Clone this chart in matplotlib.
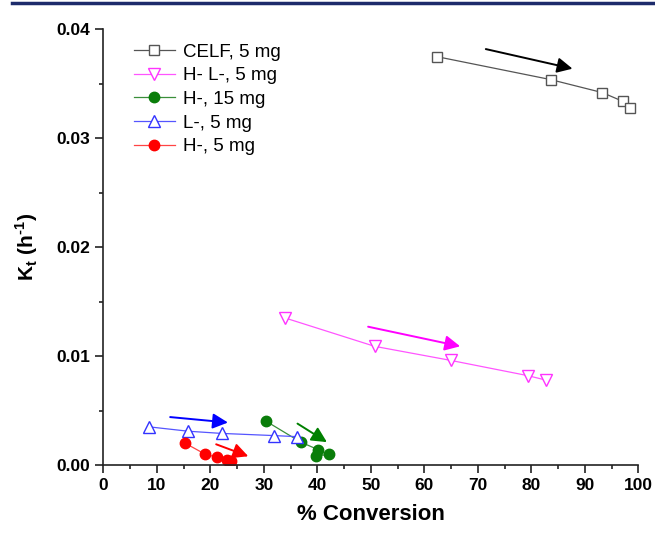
"""Kt vs % conversion for the five membrane samples."""

import matplotlib

matplotlib.use("Agg")
import matplotlib.pyplot as plt
from matplotlib.lines import Line2D
from matplotlib.ticker import FormatStrFormatter, MultipleLocator

plt.rcParams["font.family"] = ["Liberation Sans", "DejaVu Sans"]
plt.rcParams["mathtext.fontset"] = "custom"
plt.rcParams["mathtext.rm"] = "Liberation Sans:bold"
plt.rcParams["mathtext.bf"] = "Liberation Sans:bold"

# ---------------------------------------------------------------------------
# Data
# ---------------------------------------------------------------------------

celf_x = [62.4, 83.6, 93.3, 97.1, 98.4]
celf_y = [0.0375, 0.0354, 0.0342, 0.0334, 0.0328]

hl_x = [34.0, 50.7, 65.0, 79.4, 82.7]
hl_y = [0.0135, 0.0109, 0.0096, 0.0082, 0.0078]

h15_x = [30.5, 36.9, 40.2, 39.8, 42.2]
h15_y = [0.0040, 0.0021, 0.0014, 0.0008, 0.0010]

l5_x = [8.6, 15.9, 22.1, 31.9, 36.3]
l5_y = [0.0035, 0.0031, 0.0029, 0.0027, 0.0026]

h5_x = [15.3, 19.0, 21.3, 23.1, 23.8]
h5_y = [0.0020, 0.0010, 0.0007, 0.0005, 0.0004]

# trend arrows: (x0, y0, x1, y1)
arrows = {
    "black": (71.5, 0.0382, 87.7, 0.0364),
    "magenta": (49.5, 0.0127, 66.7, 0.0109),
    "blue": (12.5, 0.0044, 23.3, 0.0039),
    "green": (36.3, 0.0038, 41.8, 0.0021),
    "red": (21.1, 0.0019, 27.1, 0.0008),
}
arrow_colors = {
    "black": "black",
    "magenta": "#ff00ff",
    "blue": "#0000ff",
    "green": "#008000",
    "red": "#ff0000",
}

# ---------------------------------------------------------------------------
# Plot
# ---------------------------------------------------------------------------

fig = plt.figure(figsize=(6.55, 5.36), dpi=100)
ax = fig.add_axes([0.1577, 0.1325, 0.8168, 0.8125])

ax.plot(celf_x, celf_y, color="#555555", lw=0.9, marker="s", ms=7,
        mfc="white", mec="#555555", mew=1.0, label="CELF, 5 mg")
ax.plot(hl_x, hl_y, color="#ff55ff", lw=0.9, marker="v", ms=8.5,
        mfc="white", mec="#ff33ff", mew=1.0, label="H- L-, 5 mg")
ax.plot(h15_x, h15_y, color="#3a8f3a", lw=0.9, marker="o", ms=7.5,
        mfc="#0a7d0a", mec="#0a7d0a", label="H-, 15 mg")
ax.plot(l5_x, l5_y, color="#5555ff", lw=0.9, marker="^", ms=8.5,
        mfc="white", mec="#3333ff", mew=1.0, label="L-, 5 mg")
ax.plot(h5_x, h5_y, color="#ff4444", lw=0.9, marker="o", ms=7.5,
        mfc="#ff0000", mec="#ff0000", label="H-, 5 mg")

for name, (x0, y0, x1, y1) in arrows.items():
    ax.annotate("", xy=(x1, y1), xytext=(x0, y0),
                arrowprops=dict(arrowstyle="-|>", color=arrow_colors[name],
                                lw=1.4, mutation_scale=23, shrinkA=0, shrinkB=0))

ax.set_xlim(0, 100)
ax.set_ylim(0, 0.04)
ax.xaxis.set_major_locator(MultipleLocator(10))
ax.xaxis.set_minor_locator(MultipleLocator(5))
ax.yaxis.set_major_locator(MultipleLocator(0.01))
ax.yaxis.set_minor_locator(MultipleLocator(0.005))
ax.yaxis.set_major_formatter(FormatStrFormatter("%.2f"))

for side in ("top", "right"):
    ax.spines[side].set_visible(False)
for side in ("left", "bottom"):
    ax.spines[side].set_linewidth(1.2)
    ax.spines[side].set_color("#222222")

ax.tick_params(which="major", direction="out", length=6, width=1.2,
               labelsize=12.5, colors="#222222", labelcolor="black")
ax.tick_params(which="minor", direction="out", length=3, width=1.2,
               colors="#222222")
for lbl in ax.get_xticklabels() + ax.get_yticklabels():
    lbl.set_fontweight("bold")

ax.set_xlabel("% Conversion", fontsize=16, fontweight="bold", labelpad=8)
ax.set_ylabel("K$_\\mathrm{t}$ (h$^\\mathrm{\u20101}$)", fontsize=15,
              fontweight="bold", labelpad=12)

ax.legend(loc="upper left", bbox_to_anchor=(0.043, 0.985), frameon=False,
          fontsize=13.5, handlelength=2.2, handletextpad=0.45,
          labelspacing=0.35, borderaxespad=0)

# dark rule across the top of the figure
fig.add_artist(Line2D([12 / 655, 1.0], [1 - 3 / 536, 1 - 3 / 536],
                      transform=fig.transFigure, color="#1d2b6b", lw=2.5))

fig.savefig("out.png", dpi=100)
plt.close(fig)
